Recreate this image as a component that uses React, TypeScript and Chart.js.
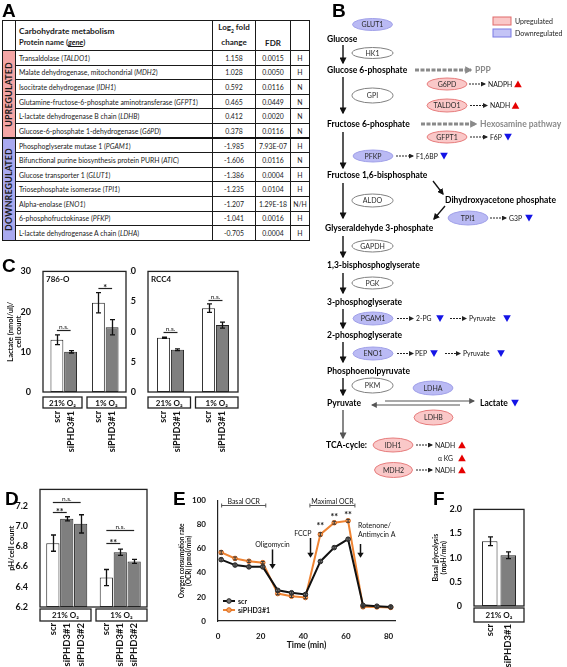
import React, { useEffect, useRef } from "react";
import { Chart, registerables } from "chart.js";
Chart.register(...registerables);

const FONT = "Lato, 'Open Sans', 'DejaVu Sans', sans-serif";
const LETTER_FONT = "'Liberation Sans', Arial, sans-serif";

// ---------------- Panel A data ----------------
const upProteins = [
  "Transaldolase",
  "Malate dehydrogenase, mitochondrial",
  "Isocitrate dehydrogenase",
  "Glutamine-fructose-6-phosphate aminotransferase",
  "L-lactate dehydrogenase B chain",
  "Glucose-6-phosphate 1-dehydrogenase",
];
const upGenes = ["TALDO1", "MDH2", "IDH1", "GFPT1", "LDHB", "G6PD"];
const upLog2 = ["1.158", "1.028", "0.592", "0.465", "0.412", "0.378"];
const upFdr = ["0.0015", "0.0050", "0.0116", "0.0449", "0.0020", "0.0116"];
const upCall = ["H", "H", "N", "N", "N", "N"];

const downProteins = [
  "Phosphoglyserate mutase 1",
  "Bifunctional purine biosynthesis protein PURH",
  "Glucose transporter 1",
  "Triosephosphate isomerase",
  "Alpha-enolase",
  "6-phosphofructokinase",
  "L-lactate dehydrogenase A chain",
];
const downGenes = ["PGAM1", "ATIC", "GLUT1", "TPI1", "ENO1", "PFKP", "LDHA"];
const downLog2 = ["-1.985", "-1.606", "-1.386", "-1.235", "-1.207", "-1.041", "-0.705"];
const downFdr = ["7.93E-07", "0.0116", "0.0004", "0.0104", "1.29E-18", "0.0016", "0.0004"];
const downCall = ["H", "N", "H", "H", "N/H", "H", "H"];

// ---------------- Panel C data ----------------
const cGroups = ["21% O\u2082", "1% O\u2082"];
const cSamples = ["scr", "siPHD3#1"];
const lac786Scr = [13.0, 22.2];
const lac786ScrErr = [1.2, 2.5];
const lac786Si = [10.0, 16.1];
const lac786SiErr = [0.3, 1.9];
const lacRccScr = [9.0, 13.9];
const lacRccScrErr = [0.1, 0.7];
const lacRccSi = [7.0, 11.1];
const lacRccSiErr = [0.15, 0.5];

// ---------------- Panel D data ----------------
const dGroups = ["21% O\u2082", "1% O\u2082"];
const dSamples = ["scr", "siPHD3#1", "siPHD3#2"];
const phScr = [6.83, 6.49];
const phScrErr = [0.08, 0.08];
const phSi1 = [7.07, 6.74];
const phSi1Err = [0.02, 0.03];
const phSi2 = [7.02, 6.65];
const phSi2Err = [0.09, 0.02];

// ---------------- Panel E data ----------------
const eTime = [1.5, 8, 14.5, 21, 28, 34.5, 41, 48, 54.5, 61, 68, 74.5, 81];
const ocrScr = [51, 46.5, 45, 45, 25.5, 23.5, 22, 49.5, 61, 68, 13, 12.3, 11.7];
const ocrScrErr = [1.2, 1, 1, 1, 1, 1, 1, 1, 1, 1.2, 1, 1, 1];
const ocrSi = [57, 52, 49.7, 48.5, 22.8, 20.6, 19.5, 72, 81.7, 83.3, 11.8, 11.7, 11.3];
const ocrSiErr = [1.4, 1.2, 1, 1, 1, 1, 1, 1.4, 1.2, 1.2, 1, 1, 1];
const eBrackets = [
  { from: 1.7, to: 22.4, level: 96.4, text: "Basal OCR" },
  { from: 43.1, to: 64.2, level: 96.4, text: "Maximal OCR" },
];
const eInjections = [
  { t: 25.3, from: 59.5, to: 43.3, lines: ["Oligomycin"], textLevel: 63, align: "center" },
  { t: 43.1, from: 69, to: 52.5, lines: ["FCCP"], textLevel: 72.3, align: "right" },
  { t: 66.6, from: 64, to: 52.5, lines: ["Rotenone/", "Antimycin A"], textLevel: 79, align: "left" },
];
const eStarTimes = [48, 54.5, 61];
const eStarLevels = [79.5, 87, 89];

// ---------------- Panel F data ----------------
const fGroups = ["21% O\u2082"];
const fSamples = ["scr", "siPHD3#1"];
const glyScr = [1.34];
const glyScrErr = [0.09];
const glySi = [1.05];
const glySiErr = [0.07];

type Sig = { g: number; a: number; b: number; level: number; text: string };
interface BarCfg {
  left: number; top: number; width: number; height: number;
  yWidth: number; padTop: number; padRight: number; xHeight: number;
  groups: string[]; samples: string[]; values: number[][]; errors: number[][]; fills: string[];
  yMin: number; yMax: number; yStep: number; fmt: (v: number) => string;
  tickSize: number; title?: string[]; titleSize?: number; titlePad?: number; inner?: string;
  sig: Sig[]; catPct: number; barPct: number; boxOff: number; boxH: number;
  groupSize: number; labelSize: number; labelGap: number; boxGap: number;
}

const WHITE = "#ffffff";
const GRAY = "#7f7f7f";

const cfg786: BarCfg = {
  left: 0, top: 262, width: 130, height: 198,
  yWidth: 43, padTop: 8, padRight: 4, xHeight: 68,
  groups: cGroups, samples: cSamples,
  values: [lac786Scr, lac786Si], errors: [lac786ScrErr, lac786SiErr], fills: [WHITE, GRAY],
  yMin: 0, yMax: 30, yStep: 10, fmt: (v) => String(v), tickSize: 9,
  title: ["Lactate (nmol/ul)/", "cell count"], titleSize: 7.5, titlePad: 6, inner: "786-O",
  sig: [
    { g: 0, a: 0, b: 1, level: 15.5, text: "n.s." },
    { g: 1, a: 0, b: 1, level: 25.8, text: "*" },
  ],
  catPct: 0.66, barPct: 0.94, boxOff: 5, boxH: 11, groupSize: 8, labelSize: 9, labelGap: 3, boxGap: 5,
};

const cfgRcc: BarCfg = {
  left: 130, top: 262, width: 112, height: 198,
  yWidth: 18, padTop: 8, padRight: 4, xHeight: 68,
  groups: cGroups, samples: cSamples,
  values: [lacRccScr, lacRccSi], errors: [lacRccScrErr, lacRccSiErr], fills: [WHITE, GRAY],
  yMin: 0, yMax: 20, yStep: 5, fmt: (v) => String(v), tickSize: 9,
  inner: "RCC4",
  sig: [
    { g: 0, a: 0, b: 1, level: 10.0, text: "n.s." },
    { g: 1, a: 0, b: 1, level: 15.2, text: "n.s." },
  ],
  catPct: 0.62, barPct: 0.94, boxOff: 5, boxH: 11, groupSize: 8, labelSize: 9, labelGap: 3, boxGap: 5,
};

const cfgD: BarCfg = {
  left: 0, top: 480, width: 150, height: 187,
  yWidth: 40, padTop: 8, padRight: 3, xHeight: 60,
  groups: dGroups, samples: dSamples,
  values: [phScr, phSi1, phSi2], errors: [phScrErr, phSi1Err, phSi2Err], fills: [WHITE, GRAY, GRAY],
  yMin: 6.2, yMax: 7.36, yStep: 0.2, fmt: (v) => v.toFixed(1), tickSize: 9,
  title: ["pH/cell count"], titleSize: 7.5, titlePad: 7,
  sig: [
    { g: 0, a: 0, b: 2, level: 7.234, text: "n.s." },
    { g: 0, a: 0, b: 1, level: 7.14, text: "**" },
    { g: 1, a: 0, b: 2, level: 6.956, text: "n.s." },
    { g: 1, a: 0, b: 1, level: 6.83, text: "**" },
  ],
  catPct: 0.78, barPct: 0.95, boxOff: 2, boxH: 12, groupSize: 8, labelSize: 9.5, labelGap: 2, boxGap: 5,
};

const cfgF: BarCfg = {
  left: 425, top: 500, width: 104, height: 167,
  yWidth: 49, padTop: 9, padRight: 5, xHeight: 61,
  groups: fGroups, samples: fSamples,
  values: [glyScr, glySi], errors: [glyScrErr, glySiErr], fills: [WHITE, GRAY],
  yMin: 0, yMax: 2.0, yStep: 0.5, fmt: (v) => (v === 0 ? "0" : v.toFixed(1)), tickSize: 9,
  title: ["Basal glycolysis", "(mpH/min)"], titleSize: 7, titlePad: 7,
  sig: [],
  catPct: 0.74, barPct: 0.84, boxOff: 2, boxH: 14, groupSize: 8, labelSize: 9.5, labelGap: 2, boxGap: 5,
};

function buildBar(canvas: HTMLCanvasElement, c: BarCfg) {
  const decor = {
    id: "decor",
    afterDatasetsDraw(chart: any) {
      const { ctx, chartArea: a } = chart;
      const y = chart.scales.y;
      ctx.save();
      ctx.strokeStyle = "#111";
      ctx.lineWidth = 1.3;
      c.values.forEach((vals, i) => {
        const meta = chart.getDatasetMeta(i);
        vals.forEach((v, g) => {
          const e = c.errors[i][g];
          const bx = Math.round(meta.data[g].x) + 0.5;
          const y1 = y.getPixelForValue(v + e);
          const y2 = y.getPixelForValue(v - e);
          ctx.beginPath();
          ctx.moveTo(bx, y1); ctx.lineTo(bx, y2);
          ctx.moveTo(bx - 2.5, y1); ctx.lineTo(bx + 2.5, y1);
          ctx.moveTo(bx - 2.5, y2); ctx.lineTo(bx + 2.5, y2);
          ctx.stroke();
        });
      });
      ctx.strokeStyle = "#222";
      ctx.lineWidth = 1.3;
      ctx.strokeRect(a.left, a.top, a.right - a.left, a.bottom - a.top);
      ctx.fillStyle = "#111";
      ctx.textAlign = "center";
      ctx.textBaseline = "alphabetic";
      c.sig.forEach((s) => {
        const xa = chart.getDatasetMeta(s.a).data[s.g].x;
        const xb = chart.getDatasetMeta(s.b).data[s.g].x;
        const yy = Math.round(y.getPixelForValue(s.level)) + 0.5;
        ctx.beginPath();
        ctx.lineWidth = 1.2;
        ctx.moveTo(xa, yy); ctx.lineTo(xb, yy);
        ctx.stroke();
        const star = s.text.indexOf("*") >= 0;
        ctx.font = star ? `bold 9px ${FONT}` : `6.5px ${FONT}`;
        ctx.fillText(s.text, (xa + xb) / 2, star ? yy + 2 : yy - 2);
      });
      if (c.inner) {
        ctx.font = `bold 8px ${FONT}`;
        ctx.textAlign = "left";
        ctx.textBaseline = "middle";
        ctx.fillText(c.inner, a.left + 3, a.top + 8);
      }
      ctx.restore();
    },
    afterDraw(chart: any) {
      const { ctx, chartArea: a } = chart;
      const n = c.groups.length;
      const cw = (a.right - a.left) / n;
      ctx.save();
      ctx.strokeStyle = "#222";
      ctx.lineWidth = 1.3;
      ctx.fillStyle = "#111";
      c.groups.forEach((gname, g) => {
        const x0 = a.left + g * cw + (g > 0 ? c.boxGap / 2 : 0);
        const x1 = a.left + (g + 1) * cw - (g < n - 1 ? c.boxGap / 2 : 0);
        const y0 = a.bottom + c.boxOff;
        ctx.strokeRect(x0, y0, x1 - x0, c.boxH);
        ctx.font = `bold ${c.groupSize}px ${FONT}`;
        ctx.textAlign = "center";
        ctx.textBaseline = "middle";
        ctx.fillText(gname, (x0 + x1) / 2, y0 + c.boxH / 2 + 0.5);
        c.samples.forEach((s, i) => {
          const bx = chart.getDatasetMeta(i).data[g].x;
          ctx.save();
          ctx.translate(bx, y0 + c.boxH + c.labelGap);
          ctx.rotate(-Math.PI / 2);
          ctx.font = `bold ${c.labelSize}px ${FONT}`;
          ctx.textAlign = "right";
          ctx.textBaseline = "middle";
          ctx.fillText(s, 0, 0);
          ctx.restore();
        });
      });
      ctx.restore();
    },
  };
  return new Chart(canvas, {
    type: "bar",
    data: {
      labels: c.groups,
      datasets: c.samples.map((s, i) => ({
        label: s,
        data: c.values[i],
        backgroundColor: c.fills[i],
        borderColor: "#262626",
        borderWidth: 1,
        borderSkipped: false,
        base: c.yMin,
        categoryPercentage: c.catPct,
        barPercentage: c.barPct,
      })),
    },
    options: {
      responsive: false,
      animation: false,
      events: [],
      layout: { padding: { top: c.padTop, right: c.padRight, left: 0, bottom: 0 } },
      plugins: { legend: { display: false }, tooltip: { enabled: false } },
      scales: {
        x: {
          grid: { display: false },
          border: { display: false },
          ticks: { display: false },
          afterFit: (s: any) => { s.height = c.xHeight; },
        },
        y: {
          min: c.yMin,
          max: c.yMax,
          grid: { display: false },
          border: { display: false },
          ticks: {
            stepSize: c.yStep,
            includeBounds: false,
            padding: 4,
            color: "#111",
            font: { family: FONT, size: c.tickSize, weight: "bold" },
            callback: (v: any) => c.fmt(Number(v)),
          },
          title: c.title
            ? {
                display: true,
                text: c.title,
                color: "#111",
                font: { family: FONT, size: c.titleSize, weight: "bold", lineHeight: 1.15 },
                padding: { top: c.titlePad, bottom: 0 },
              }
            : { display: false },
          afterFit: (s: any) => { s.width = c.yWidth; },
        },
      },
    } as any,
    plugins: [decor],
  } as any);
}

function BarChart({ cfg }: { cfg: BarCfg }) {
  const ref = useRef<HTMLCanvasElement>(null);
  useEffect(() => {
    const ch = buildBar(ref.current as HTMLCanvasElement, cfg);
    return () => ch.destroy();
  }, []);
  return (
    <canvas
      ref={ref}
      width={cfg.width}
      height={cfg.height}
      style={{ position: "absolute", left: cfg.left, top: cfg.top, width: cfg.width, height: cfg.height }}
    />
  );
}

function buildE(canvas: HTMLCanvasElement) {
  const series = [
    { vals: ocrScr, errs: ocrScrErr, line: "#111111", fill: "#777777", edge: "#222222", label: "scr" },
    { vals: ocrSi, errs: ocrSiErr, line: "#ef8433", fill: "#f7a35c", edge: "#d9661a", label: "siPHD3#1" },
  ];
  const decor = {
    id: "edecor",
    afterDatasetsDraw(chart: any) {
      const { ctx, chartArea: a } = chart;
      const x = chart.scales.x;
      const y = chart.scales.y;
      ctx.save();
      ctx.strokeStyle = "#333";
      ctx.lineWidth = 1;
      series.forEach((s) => {
        s.vals.forEach((v, i) => {
          const px = x.getPixelForValue(eTime[i]);
          const y1 = y.getPixelForValue(v + s.errs[i]);
          const y2 = y.getPixelForValue(v - s.errs[i]);
          ctx.beginPath();
          ctx.moveTo(px, y1); ctx.lineTo(px, y2);
          ctx.moveTo(px - 1.8, y1); ctx.lineTo(px + 1.8, y1);
          ctx.moveTo(px - 1.8, y2); ctx.lineTo(px + 1.8, y2);
          ctx.stroke();
        });
      });
      ctx.fillStyle = "#111";
      ctx.strokeStyle = "#555";
      eBrackets.forEach((b) => {
        const x0 = x.getPixelForValue(b.from);
        const x1 = x.getPixelForValue(b.to);
        const yy = Math.round(y.getPixelForValue(b.level)) + 0.5;
        ctx.lineWidth = 1;
        ctx.beginPath();
        ctx.moveTo(x0, yy); ctx.lineTo(x1, yy);
        ctx.moveTo(x0, yy - 2); ctx.lineTo(x0, yy + 2);
        ctx.moveTo(x1, yy - 2); ctx.lineTo(x1, yy + 2);
        ctx.stroke();
        ctx.font = `7px ${FONT}`;
        ctx.textAlign = "center";
        ctx.textBaseline = "alphabetic";
        ctx.fillText(b.text, (x0 + x1) / 2, yy - 2);
      });
      eInjections.forEach((inj) => {
        const px = Math.round(x.getPixelForValue(inj.t)) + 0.5;
        const ya = y.getPixelForValue(inj.from);
        const yb = y.getPixelForValue(inj.to);
        ctx.strokeStyle = "#111";
        ctx.lineWidth = 1.5;
        ctx.beginPath();
        ctx.moveTo(px, ya); ctx.lineTo(px, yb - 4);
        ctx.stroke();
        ctx.beginPath();
        ctx.moveTo(px - 3.2, yb - 5); ctx.lineTo(px + 3.2, yb - 5); ctx.lineTo(px, yb);
        ctx.closePath();
        ctx.fill();
        ctx.font = `7px ${FONT}`;
        ctx.textBaseline = "middle";
        const ty = y.getPixelForValue(inj.textLevel);
        inj.lines.forEach((ln, k) => {
          let tx = px;
          if (inj.align === "right") { ctx.textAlign = "right"; tx = px + 1; }
          else if (inj.align === "left") { ctx.textAlign = "left"; tx = px - 2.5; }
          else ctx.textAlign = "center";
          ctx.fillText(ln, tx, ty + k * 9);
        });
      });
      ctx.font = `bold 9px ${FONT}`;
      ctx.textAlign = "center";
      ctx.textBaseline = "alphabetic";
      eStarTimes.forEach((t, i) => {
        ctx.fillText("**", x.getPixelForValue(t), y.getPixelForValue(eStarLevels[i]) + 4);
      });
      series.forEach((s, i) => {
        const ly = a.bottom - 20 + i * 9;
        const lx = a.left + 5;
        ctx.strokeStyle = s.line;
        ctx.lineWidth = 2;
        ctx.beginPath();
        ctx.moveTo(lx, ly); ctx.lineTo(lx + 12, ly);
        ctx.stroke();
        ctx.beginPath();
        ctx.arc(lx + 6, ly, 2.3, 0, Math.PI * 2);
        ctx.fillStyle = s.fill;
        ctx.fill();
        ctx.strokeStyle = s.edge;
        ctx.lineWidth = 1;
        ctx.stroke();
        ctx.fillStyle = "#111";
        ctx.font = `bold 7px ${FONT}`;
        ctx.textAlign = "left";
        ctx.textBaseline = "middle";
        ctx.fillText(s.label, lx + 15, ly + 0.5);
      });
      ctx.restore();
    },
  };
  return new Chart(canvas, {
    type: "line",
    data: {
      datasets: series.map((s) => ({
        label: s.label,
        data: eTime.map((t, i) => ({ x: t, y: s.vals[i] })),
        borderColor: s.line,
        borderWidth: 2,
        pointRadius: 2.3,
        pointBackgroundColor: s.fill,
        pointBorderColor: s.edge,
        pointBorderWidth: 1,
        tension: 0,
      })),
    },
    options: {
      responsive: false,
      animation: false,
      events: [],
      layout: { padding: { top: 11.7, right: 7, left: 0, bottom: 0 } },
      plugins: { legend: { display: false }, tooltip: { enabled: false } },
      scales: {
        x: {
          type: "linear",
          min: 0,
          max: 83,
          grid: { display: false },
          border: { display: true, color: "#222", width: 1.2 },
          ticks: {
            stepSize: 20,
            includeBounds: false,
            padding: 3,
            color: "#111",
            font: { family: FONT, size: 8, weight: "bold" },
          },
          title: {
            display: true,
            text: "Time (min)",
            color: "#111",
            font: { family: FONT, size: 8.5, weight: "bold" },
            padding: { top: 0, bottom: 0 },
          },
          afterFit: (s: any) => { s.height = 29; },
        },
        y: {
          min: 0,
          max: 100,
          grid: { display: false },
          border: { display: true, color: "#222", width: 1.2 },
          ticks: {
            stepSize: 20,
            padding: 4,
            color: "#111",
            font: { family: FONT, size: 8, weight: "bold" },
          },
          title: {
            display: true,
            text: ["Oxygen consumption rate", "(OCR) (pmol/min)"],
            color: "#111",
            font: { family: FONT, size: 6.5, weight: "bold", lineHeight: 1.1 },
            padding: { top: 6, bottom: 0 },
          },
          afterFit: (s: any) => { s.width = 46; },
        },
      },
    } as any,
    plugins: [decor],
  } as any);
}

function EChart() {
  const ref = useRef<HTMLCanvasElement>(null);
  useEffect(() => {
    const ch = buildE(ref.current as HTMLCanvasElement);
    return () => ch.destroy();
  }, []);
  return (
    <canvas
      ref={ref}
      width={230}
      height={161}
      style={{ position: "absolute", left: 172, top: 489, width: 230, height: 161 }}
    />
  );
}

function TableA() {
  const b = "1px solid #1a1a1a";
  const td: React.CSSProperties = {
    border: b, padding: "0 0 0 3px", fontSize: 6.9, color: "#1a1a1a",
    whiteSpace: "nowrap", overflow: "hidden", lineHeight: "10px",
  };
  const num: React.CSSProperties = { ...td, textAlign: "center", padding: 0 };
  const rows = (
    prots: string[], genes: string[], log2: string[], fdr: string[], call: string[],
    side: string, color: string, sep: boolean,
  ) =>
    prots.map((p, i) => {
      const top = sep && i === 0 ? "2px solid #111" : b;
      return (
        <tr key={side + i} style={{ height: 14.6 }}>
          {i === 0 && (
            <td rowSpan={prots.length} style={{ border: b, borderTop: top, background: color, padding: 0 }}>
              <div
                style={{
                  writingMode: "vertical-rl", transform: "rotate(180deg)", fontWeight: 700,
                  fontSize: 8.8, margin: "0 auto", color: "#1a1a1a", letterSpacing: 0.2, lineHeight: "12px",
                }}
              >
                {side}
              </div>
            </td>
          )}
          <td style={{ ...td, borderTop: top }}>
            {p} (<i>{genes[i]}</i>)
          </td>
          <td style={{ ...num, borderTop: top }}>{log2[i]}</td>
          <td style={{ ...num, borderTop: top }}>{fdr[i]}</td>
          <td style={{ ...num, borderTop: top }}>{call[i]}</td>
        </tr>
      );
    });
  return (
    <table
      style={{
        position: "absolute", left: 2, top: 20, width: 307, borderCollapse: "collapse",
        tableLayout: "fixed", border: "1.5px solid #111", fontFamily: FONT,
      }}
    >
      <colgroup>
        <col style={{ width: 13 }} />
        <col style={{ width: 197 }} />
        <col style={{ width: 43 }} />
        <col style={{ width: 35 }} />
        <col style={{ width: 19 }} />
      </colgroup>
      <tbody>
        <tr style={{ height: 30 }}>
          <td style={{ border: b }} />
          <td style={{ ...td, verticalAlign: "bottom", paddingBottom: 2 }}>
            <div style={{ fontWeight: 700, fontSize: 8.3, lineHeight: "11px" }}>Carbohydrate metabolism</div>
            <div style={{ fontWeight: 700, fontSize: 7.6, lineHeight: "11px" }}>
              Protein name (<u><i>gene</i></u>)
            </div>
          </td>
          <td style={{ ...num, verticalAlign: "bottom", paddingBottom: 2, fontWeight: 700, fontSize: 8 }}>
            <div style={{ lineHeight: "11px" }}>
              Log<sub style={{ fontSize: 5 }}>2</sub> fold
            </div>
            <div style={{ lineHeight: "11px" }}>change</div>
          </td>
          <td style={{ ...num, verticalAlign: "bottom", paddingBottom: 2, fontWeight: 700, fontSize: 8 }}>FDR</td>
          <td style={{ border: b }} />
        </tr>
        {rows(upProteins, upGenes, upLog2, upFdr, upCall, "UPREGULATED", "#f4a6a6", false)}
        {rows(downProteins, downGenes, downLog2, downFdr, downCall, "DOWNREGULATED", "#a9a9ef", true)}
      </tbody>
    </table>
  );
}

function PathwayB() {
  const styles: any = {
    u: { fill: "#fac8c8", stroke: "#e67c7c" },
    d: { fill: "#babaf4", stroke: "#a0a0e8" },
    n: { fill: "#ffffff", stroke: "#808080" },
  };
  const enz: [string, number, number, number, number, string][] = [
    ["GLUT1", 372.5, 24.5, 20, 6, "d"],
    ["HK1", 372.5, 53, 20.5, 5.5, "n"],
    ["GPI", 372.5, 95.5, 20.5, 7.5, "n"],
    ["G6PD", 447, 84, 20, 6, "u"],
    ["TALDO1", 447, 105.5, 20, 6.5, "u"],
    ["GFPT1", 447, 137, 20, 6, "u"],
    ["PFKP", 373, 156, 20, 6, "d"],
    ["ALDO", 372.5, 200.5, 20.5, 6.5, "n"],
    ["TPI1", 468, 218, 20, 7, "d"],
    ["GAPDH", 372.5, 246, 20.5, 6, "n"],
    ["PGK", 372.5, 283, 20.5, 6, "n"],
    ["PGAM1", 373, 318.5, 20, 6.5, "d"],
    ["ENO1", 373, 353.5, 20, 6.5, "d"],
    ["PKM", 372.5, 385.5, 20.5, 7.5, "n"],
    ["LDHA", 433, 388, 20, 7, "d"],
    ["LDHB", 433.5, 417.5, 19.5, 7.5, "u"],
    ["IDH1", 393, 445, 20, 7, "u"],
    ["MDH2", 393.5, 470, 19, 7.5, "u"],
  ];
  const mets: [string, number, number][] = [
    ["Glucose", 327, 42],
    ["Glucose 6-phosphate", 327, 73],
    ["Fructose 6-phosphate", 327, 127],
    ["Fructose 1,6-bisphosphate", 327, 178],
    ["Dihydroxyacetone phosphate", 445, 203],
    ["Glyseraldehyde 3-phosphate", 325, 231],
    ["1,3-bisphosphoglyserate", 327, 268],
    ["3-phosphoglyserate", 327, 305],
    ["2-phosphoglyserate", 327, 338],
    ["Phosphoenolpyruvate", 327, 374],
    ["Pyruvate", 327, 406],
    ["Lactate", 480, 406],
    ["TCA-cycle:", 326, 448],
  ];
  const vArrows: [number, number][] = [
    [45, 63], [77, 113], [132, 168], [183, 218], [236, 257], [273, 293], [309, 328], [342, 362], [378, 395],
  ];
  const dashArrows: [number, number, number][] = [
    [469, 485, 84], [470, 487, 105.5], [470, 487, 137], [396, 413, 156], [490, 506, 218],
    [397, 413, 318.5], [450, 466, 318.5], [397, 413, 353.5], [445, 460, 353.5], [416, 432, 445], [416, 432, 470],
  ];
  const smallTexts: [string, number, number][] = [
    ["NADPH", 488, 84], ["NADH", 490, 105.5], ["F6P", 490, 137], ["F1,6BP", 416, 156], ["G3P", 509, 218],
    ["2-PG", 416, 318.5], ["Pyruvate", 469, 318.5], ["PEP", 415, 353.5], ["Pyruvate", 463, 353.5],
    ["NADH", 435, 445], ["\u03b1 KG", 438, 458], ["NADH", 435, 470],
  ];
  const tris: [number, number, string][] = [
    [518, 84, "u"], [515.5, 105.5, "u"], [508, 137, "d"], [444, 156, "d"], [529, 218, "d"],
    [440, 318.5, "d"], [507, 318.5, "d"], [434, 353.5, "d"], [501, 353.5, "d"], [515, 403, "d"],
    [462, 445, "u"], [462, 458, "u"], [462, 470, "u"],
  ];
  const triPath = (x: number, y: number, t: string) =>
    t === "u"
      ? `M${x - 3.8},${y + 3.2} L${x + 3.8},${y + 3.2} L${x},${y - 3.6} Z`
      : `M${x - 3.8},${y - 3.2} L${x + 3.8},${y - 3.2} L${x},${y + 3.6} Z`;
  return (
    <svg
      width={567}
      height={667}
      style={{ position: "absolute", left: 0, top: 0, pointerEvents: "none" }}
      fontFamily={FONT}
    >
      <defs>
        <marker id="ahB" viewBox="0 0 10 10" refX="8" refY="5" markerWidth="5" markerHeight="5" orient="auto">
          <path d="M0,0 L10,5 L0,10 z" fill="#111" />
        </marker>
        <marker id="ahG" viewBox="0 0 10 10" refX="8" refY="5" markerWidth="5" markerHeight="5" orient="auto">
          <path d="M0,0 L10,5 L0,10 z" fill="#555" />
        </marker>
        <marker id="ahL" viewBox="0 0 10 10" refX="8" refY="5" markerWidth="2.6" markerHeight="2.6" orient="auto">
          <path d="M0,0 L10,5 L0,10 z" fill="#8a8a8a" />
        </marker>
        <marker id="ahS" viewBox="0 0 10 10" refX="8" refY="5" markerWidth="5" markerHeight="5" orient="auto">
          <path d="M0,0 L10,5 L0,10 z" fill="#222" />
        </marker>
      </defs>
      <g fontFamily={LETTER_FONT} fontWeight="bold" fontSize={19} fill="#000">
        <text x={2} y={17}>A</text>
        <text x={332} y={17}>B</text>
        <text x={2} y={272}>C</text>
        <text x={5} y={505}>D</text>
        <text x={173} y={505}>E</text>
        <text x={433} y={505}>F</text>
      </g>
      <rect x={493} y={17} width={18} height={8} fill="#fac8c8" stroke="#e06a6a" strokeWidth={1} />
      <text x={515} y={24} fontSize={7} fill="#222">Upregulated</text>
      <rect x={493} y={29} width={18} height={8} fill="#c4c4f6" stroke="#7a7ae4" strokeWidth={1} />
      <text x={515} y={36} fontSize={7} fill="#222">Downregulated</text>
      {vArrows.map(([a, b], i) => (
        <line key={"v" + i} x1={343} y1={a} x2={343} y2={b} stroke="#111" strokeWidth={1.4} markerEnd="url(#ahB)" />
      ))}
      <line x1={343} y1={410} x2={343} y2={438} stroke="#555" strokeWidth={1.4} markerEnd="url(#ahG)" />
      <line x1={433} y1={181} x2={443} y2={194} stroke="#111" strokeWidth={1.3} markerEnd="url(#ahB)" />
      <line x1={445} y1={206} x2={434} y2={219} stroke="#111" strokeWidth={1.3} markerEnd="url(#ahB)" />
      <line x1={385} y1={401} x2={474} y2={401} stroke="#555" strokeWidth={1.2} markerEnd="url(#ahG)" />
      <line x1={460} y1={405} x2={372} y2={405} stroke="#555" strokeWidth={1.2} markerEnd="url(#ahG)" />
      <line x1={415} y1={70} x2={471} y2={70} stroke="#8a8a8a" strokeWidth={2.8} strokeDasharray="4 1.5" markerEnd="url(#ahL)" />
      <text x={475} y={73} fontSize={8.5} fontWeight="bold" fill="#8a8a8a">PPP</text>
      <line x1={421} y1={124} x2={476} y2={124} stroke="#8a8a8a" strokeWidth={2.8} strokeDasharray="4 1.5" markerEnd="url(#ahL)" />
      <text x={480} y={127} fontSize={8.5} fontWeight="bold" fill="#8a8a8a">Hexosamine pathway</text>
      {enz.map(([name, cx, cy, rx, ry, t]) => (
        <g key={name}>
          <ellipse cx={cx} cy={cy} rx={rx} ry={ry} fill={styles[t].fill} stroke={styles[t].stroke} strokeWidth={1} />
          <text x={cx} y={cy + 2.5} fontSize={7} textAnchor="middle" fill="#2a2a2a">{name}</text>
        </g>
      ))}
      {mets.map(([txt, x, y]) => (
        <text key={txt + x} x={x} y={y} fontSize={8.5} fontWeight="bold" fill="#000">{txt}</text>
      ))}
      {dashArrows.map(([a, b, y], i) => (
        <line key={"d" + i} x1={a} y1={y} x2={b} y2={y} stroke="#222" strokeWidth={1} strokeDasharray="2 1" markerEnd="url(#ahS)" />
      ))}
      {smallTexts.map(([txt, x, y], i) => (
        <text key={"s" + i} x={x} y={y + 2.5} fontSize={6.8} fill="#111">{txt}</text>
      ))}
      {tris.map(([x, y, t], i) => (
        <path key={"t" + i} d={triPath(x, y, t)} fill={t === "u" ? "#e60000" : "#1414e6"} />
      ))}
    </svg>
  );
}

export default function App() {
  return (
    <div
      style={{
        position: "fixed", left: 0, top: 0, width: 567, height: 667, background: "#fff",
        overflow: "hidden", fontFamily: FONT,
      }}
    >
      <TableA />
      <BarChart cfg={cfg786} />
      <BarChart cfg={cfgRcc} />
      <BarChart cfg={cfgD} />
      <EChart />
      <BarChart cfg={cfgF} />
      <PathwayB />
    </div>
  );
}
